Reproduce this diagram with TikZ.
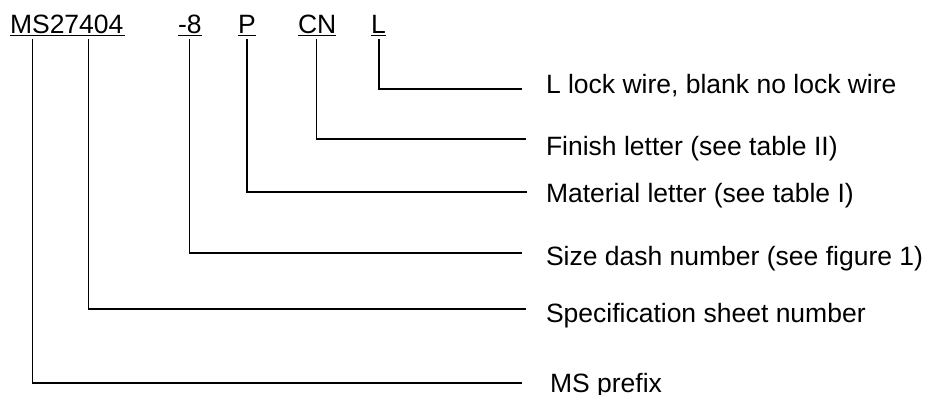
\documentclass[tikz,border=0pt]{standalone}
\usepackage{fontspec}
\setmainfont{Liberation Sans}
\begin{document}
\begin{tikzpicture}[x=1pt,y=1pt,
  code/.style={inner sep=0pt,outer sep=0pt,anchor=base west,font=\fontsize{26.5}{30}\selectfont},
  lbl/.style={inner sep=0pt,outer sep=0pt,anchor=base west,font=\fontsize{26.5}{30}\selectfont},
  uline/.style={line width=1.4pt},
  leader/.style={line width=1.4pt}]
\useasboundingbox (0,0) rectangle (927,-394);
% part number pieces
\node[code] (ms) at (10,-33) {MS};
\node[code,anchor=base west] (num) at (ms.base east) {27404};
\node[code] (dash) at (178,-33) {-8};
\node[code] (mat) at (238,-33) {P};
\node[code] (fin) at (298,-33) {CN};
\node[code] (lock) at (371,-33) {L};
% underlines
\draw[uline] ([yshift=-2.5pt]ms.base west) -- ([yshift=-2.5pt,xshift=1.5pt]num.base east);
\draw[uline] ([yshift=-2.5pt]dash.base west) -- ([yshift=-2.5pt]dash.base east);
\draw[uline] ([yshift=-2.5pt]mat.base west) -- ([yshift=-2.5pt]mat.base east);
\draw[uline] ([yshift=-2.5pt]fin.base west) -- ([yshift=-2.5pt]fin.base east);
\draw[uline] ([yshift=-2.5pt]lock.base west) -- ([yshift=-2.5pt]lock.base east);
% labels
\node[lbl] (tLock) at (546,-93) {L lock wire, blank no lock wire};
\node[lbl] (tFin) at (546,-155) {Finish letter (see table II)};
\node[lbl] (tMat) at (546,-202) {Material letter (see table I)};
\node[lbl] (tDash) at (546,-265) {Size dash number (see figure 1)};
\node[lbl] (tNum) at (546,-322) {Specification sheet number};
\node[lbl] (tMS) at (550,-392) {MS prefix};
% leader ends
\coordinate (eLock) at (522,-89);
\coordinate (eFin) at (526,-139);
\coordinate (eMat) at (527,-192);
\coordinate (eDash) at (522,-253);
\coordinate (eNum) at (526,-309);
\coordinate (eMS) at (522,-383);
% leaders
\draw[leader] ([yshift=-6pt,xshift=0.5pt]lock.base) |- (eLock);
\draw[leader] ([yshift=-6pt,xshift=-0.5pt]fin.base) |- (eFin);
\draw[leader] ([yshift=-6pt,xshift=0pt]mat.base) |- (eMat);
\draw[leader] ([yshift=-6pt,xshift=0pt]dash.base) |- (eDash);
\draw[leader] ([yshift=-6pt,xshift=2pt]num.base) |- (eNum);
\draw[leader] ([yshift=-6pt,xshift=2.5pt]ms.base) |- (eMS);
\end{tikzpicture}
\end{document}
